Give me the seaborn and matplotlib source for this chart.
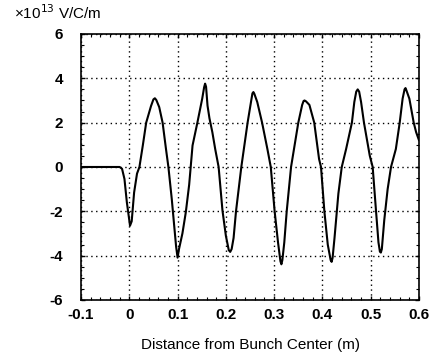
import pandas as pd
import matplotlib
matplotlib.use("Agg")
import matplotlib.pyplot as plt
from matplotlib.ticker import MultipleLocator
import seaborn as sns

# points (m, x1e13 V/C/m)
distance = [
    -0.100, -0.030, -0.020, -0.015, -0.010, -0.005, 0.000, 0.0015, 0.005,
    0.010, 0.016, 0.021, 0.028, 0.035, 0.045, 0.050, 0.053, 0.056, 0.062,
    0.069, 0.076, 0.081, 0.088, 0.093, 0.097, 0.100, 0.103, 0.110, 0.117,
    0.124, 0.131, 0.141, 0.151, 0.155, 0.157, 0.159, 0.162, 0.166, 0.172,
    0.178, 0.185, 0.193, 0.200, 0.206, 0.209, 0.212, 0.216, 0.221, 0.232,
    0.245, 0.252, 0.255, 0.257, 0.259, 0.265, 0.275, 0.286, 0.293, 0.301,
    0.308, 0.313, 0.315, 0.317, 0.321, 0.326, 0.335, 0.350, 0.358, 0.361,
    0.363, 0.366, 0.373, 0.383, 0.393, 0.397, 0.404, 0.411, 0.417, 0.419,
    0.421, 0.425, 0.433, 0.440, 0.449, 0.461, 0.466, 0.470, 0.473, 0.476,
    0.480, 0.486, 0.498, 0.504, 0.511, 0.516, 0.519, 0.521, 0.523, 0.528,
    0.535, 0.542, 0.552, 0.560, 0.566, 0.570, 0.572, 0.574, 0.580, 0.589,
    0.594, 0.600,
]
wake = [
    0.00, 0.00, 0.00, -0.08, -0.54, -1.60, -2.40, -2.65, -2.45,
    -1.15, -0.30, 0.00, 0.97, 2.00, 2.75, 3.05, 3.10, 3.02, 2.70,
    2.00, 0.81, 0.00, -1.45, -2.65, -3.60, -4.09, -3.70, -3.00, -2.05,
    -0.80, 0.97, 2.00, 3.08, 3.60, 3.76, 3.62, 2.77, 2.20, 1.57,
    0.80, 0.00, -1.97, -3.10, -3.75, -3.83, -3.70, -3.20, -2.00, 0.00,
    2.00, 2.93, 3.32, 3.38, 3.30, 2.93, 2.00, 0.81, 0.00, -2.00,
    -3.40, -4.25, -4.39, -4.20, -3.40, -2.00, 0.00, 2.00, 2.80, 2.98,
    3.00, 2.96, 2.80, 2.00, 0.36, 0.00, -2.00, -3.50, -4.20, -4.28,
    -4.10, -3.20, -1.20, 0.00, 0.81, 2.00, 2.93, 3.40, 3.50, 3.40,
    2.93, 2.00, 0.51, 0.00, -2.00, -3.40, -3.82, -3.86, -3.70, -2.40,
    -1.00, 0.00, 0.81, 2.00, 3.08, 3.50, 3.56, 3.45, 3.08, 2.00,
    1.57, 1.20,
]

x_ticks = [-0.1, 0, 0.1, 0.2, 0.3, 0.4, 0.5, 0.6]
x_tick_labels = ["-0.1", "0", "0.1", "0.2", "0.3", "0.4", "0.5", "0.6"]
y_ticks = [-6, -4, -2, 0, 2, 4, 6]
y_tick_labels = ["-6", "-4", "-2", "0", "2", "4", "6"]


def main():
    df = pd.DataFrame({"distance": distance, "wake": wake})
    sns.set_theme(style="white")
    plt.rcParams["font.family"] = ["Liberation Sans", "DejaVu Sans"]
    plt.rcParams["axes.unicode_minus"] = False

    fig = plt.figure(figsize=(4.39, 3.57), dpi=100)
    ax = fig.add_axes([0.1845, 0.1597, 0.77, 0.7451])
    sns.lineplot(data=df, x="distance", y="wake", ax=ax,
                 color="black", linewidth=1.5, sort=False)

    ax.set_xlim(-0.1, 0.6)
    ax.set_ylim(-6, 6)
    ax.set_xticks(x_ticks)
    ax.set_xticklabels(x_tick_labels)
    ax.set_yticks(y_ticks)
    ax.set_yticklabels(y_tick_labels)
    ax.xaxis.set_minor_locator(MultipleLocator(0.02))
    ax.yaxis.set_minor_locator(MultipleLocator(0.5))
    ax.tick_params(which="both", direction="in", top=True, right=True,
                   bottom=True, left=True, color="black")
    ax.tick_params(which="major", length=3, width=1.0)
    ax.tick_params(which="minor", length=2, width=0.8)
    ax.tick_params(axis="y", which="major", pad=13, labelsize=11)
    ax.tick_params(axis="x", which="major", pad=6, labelsize=11)
    for lab in ax.get_xticklabels() + ax.get_yticklabels():
        lab.set_fontweight("bold")
        lab.set_color("black")

    ax.grid(True, which="major", color="black", linestyle=(0, (1, 2.5)),
            linewidth=1.0)
    for sp in ax.spines.values():
        sp.set_color("black")
        sp.set_linewidth(1.2)

    ax.set_xlabel("Distance from Bunch Center (m)", fontsize=11,
                  color="black", labelpad=11)
    ax.set_ylabel("")
    fig.text(0.032, 0.948, "×10$^{13}$ V/C/m", fontsize=11, color="black",
             ha="left", va="baseline")

    fig.savefig("out.png", dpi=100)


if __name__ == "__main__":
    main()
